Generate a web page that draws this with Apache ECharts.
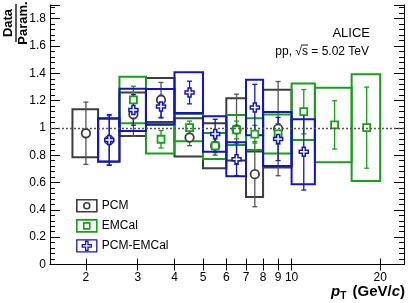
<!DOCTYPE html>
<html><head><meta charset="utf-8">
<script src="https://cdn.jsdelivr.net/npm/echarts@6/dist/echarts.min.js"></script>
<style>html,body{margin:0;padding:0;background:#fff}#c{width:411px;height:303px}</style>
</head><body><div id="c"></div>
<script>
// ---- data ----
const xTickValues = [2,3,4,5,6,7,8,9,10,20];
const yTickValues = [0,0.2,0.4,0.6,0.8,1,1.2,1.4,1.6,1.8];

// PCM
const pcmLow  = [1.8,2.2,2.6,3.2,4,5,6,7,8];
const pcmHigh = [2.2,2.6,3.2,4,5,6,7,8,10];
const pcmX    = [2.0,2.4,2.9,3.6,4.5,5.5,6.5,7.5,9];
const pcmVal  = [0.961,0.91,1.10,1.205,0.93,0.87,0.99,0.661,0.995];
const pcmStat = [0.228,0.18,0.16,0.128,0.06,0.07,0.257,0.238,0.345];
const pcmSys  = [0.175,0.158,0.16,0.161,0.14,0.165,0.228,0.167,0.284];

// EMCal
const emcLow  = [2.6,3.2,4,5,6,7,8,10,12,16];
const emcHigh = [3.2,4,5,6,7,8,10,12,16,20];
const emcX    = [2.9,3.6,4.5,5.5,6.5,7.5,9,11,14,18];
const emcVal  = [1.205,0.917,1.002,0.868,0.985,0.954,0.956,1.119,1.022,1.002];
const emcStat = [0.10,0.064,0.048,0.05,0.065,0.065,0.075,0.162,0.177,0.297];
const emcSys  = [0.17,0.104,0.10,0.095,0.11,0.116,0.143,0.207,0.273,0.391];

// PCM-EMCal
const hybLow  = [2.2,2.6,3.2,4,5,6,7,8,10];
const hybHigh = [2.6,3.2,4,5,6,7,8,10,12];
const hybX    = [2.4,2.9,3.6,4.5,5.5,6.5,7.5,9,11];
const hybVal  = [0.912,1.132,1.156,1.259,0.956,0.771,1.149,0.919,0.826];
const hybStat = [0.186,0.112,0.083,0.083,0.107,0.12,0.17,0.158,0.281];
const hybSys  = [0.158,0.154,0.129,0.149,0.13,0.125,0.203,0.198,0.238];

const FONT = "'Liberation Sans', Arial, Helvetica, sans-serif";
const cPCM = '#3d3d3d', cEMC = '#17a017', cHYB = '#1414c8';
const crossPath = 'path://M-1,-3H1V-1H3V1H1V3H-1V1H-3V-1H-1Z';

function boxSeries(name, color, low, high, val, sys) {
  return {
    type: 'custom', name: name,
    data: low.map((l, i) => [l, high[i], val[i], sys[i]]),
    encode: { x: [0, 1], y: 2 },
    renderItem: function (params, api) {
      const a = api.coord([api.value(0), api.value(2) + api.value(3)]);
      const b = api.coord([api.value(1), api.value(2) - api.value(3)]);
      return { type: 'rect',
        shape: { x: a[0], y: a[1], width: b[0] - a[0], height: b[1] - a[1] },
        style: { fill: 'none', stroke: color, lineWidth: 2 } };
    }
  };
}
function errSeries(name, color, xs, val, err) {
  return {
    type: 'custom', name: name,
    data: xs.map((x, i) => [x, val[i], err[i]]),
    encode: { x: 0, y: 1 },
    renderItem: function (params, api) {
      const t = api.coord([api.value(0), api.value(1) + api.value(2)]);
      const b = api.coord([api.value(0), api.value(1) - api.value(2)]);
      const st = { stroke: color, lineWidth: 1.3 };
      return { type: 'group', children: [
        { type: 'line', shape: { x1: t[0], y1: t[1], x2: b[0], y2: b[1] }, style: st },
        { type: 'line', shape: { x1: t[0] - 2.5, y1: t[1], x2: t[0] + 2.5, y2: t[1] }, style: st },
        { type: 'line', shape: { x1: b[0] - 2.5, y1: b[1], x2: b[0] + 2.5, y2: b[1] }, style: st }
      ]};
    }
  };
}
function markSeries(name, color, xs, val, symbol, size, bw) {
  return {
    type: 'scatter', name: name, symbol: symbol, symbolSize: size,
    data: xs.map((x, i) => [x, val[i]]),
    itemStyle: { color: '#fff', borderColor: color, borderWidth: bw, opacity: 1 }
  };
}

const series = [];
const pcmBox = boxSeries('PCM', cPCM, pcmLow, pcmHigh, pcmVal, pcmSys);
pcmBox.markLine = { silent: true, symbol: 'none', label: { show: false },
  lineStyle: { color: '#555', type: [2, 2], width: 1.3 }, data: [{ yAxis: 1 }] };
series.push(pcmBox, errSeries('PCM', '#555', pcmX, pcmVal, pcmStat), markSeries('PCM', cPCM, pcmX, pcmVal, 'circle', 8.5, 1.8));
series.push(boxSeries('EMCal', cEMC, emcLow, emcHigh, emcVal, emcSys), errSeries('EMCal', cEMC, emcX, emcVal, emcStat), markSeries('EMCal', cEMC, emcX, emcVal, 'rect', 7, 1.8));
series.push(boxSeries('PCM-EMCal', cHYB, hybLow, hybHigh, hybVal, hybSys), errSeries('PCM-EMCal', cHYB, hybX, hybVal, hybStat), markSeries('PCM-EMCal', cHYB, hybX, hybVal, crossPath, 9, 1.5));

const axLine = { show: true, lineStyle: { color: '#000', width: 1 } };
function xAx(pos, showLabel) {
  return {
    type: 'log', logBase: 10, min: 1.51, max: 24.1, position: pos,
    axisLine: axLine,
    axisTick: { show: true, inside: true, length: 6, customValues: xTickValues, lineStyle: { color: '#000' } },
    axisLabel: { show: showLabel, customValues: xTickValues, margin: 7, fontSize: 12, color: '#000', fontFamily: FONT,
      formatter: v => String(Math.round(v)) },
    minorTick: { show: false }, splitLine: { show: false }
  };
}
function yAx(pos, showLabel) {
  return {
    type: 'value', min: 0, max: 1.9, interval: 0.2, position: pos,
    axisLine: axLine,
    axisTick: { show: true, inside: true, length: 10, lineStyle: { color: '#000' } },
    minorTick: { show: true, splitNumber: 5, length: 5, lineStyle: { color: '#000' } },
    axisLabel: { show: showLabel, showMaxLabel: false, margin: 4, fontSize: 12, color: '#000', fontFamily: FONT },
    splitLine: { show: false }
  };
}

const legendIcon = {
  'PCM': 'path://M0,0H20V12H0Z M13,6A3,3,0,1,1,7,6A3,3,0,1,1,13,6Z',
  'EMCal': 'path://M0,0H20V12H0Z M7,3H13V9H7Z',
  'PCM-EMCal': 'path://M0,0H20V12H0Z M8.8,1.5H11.2V4.8H14.5V7.2H11.2V10.5H8.8V7.2H5.5V4.8H8.8Z'
};

// measure text for sqrt(s) overline
const ctx = document.createElement('canvas').getContext('2d');
ctx.font = '12px ' + FONT;
const ppText = 'pp, \u221As = 5.02 TeV';
const ppW = ctx.measureText(ppText).width;
const ppPre = ctx.measureText('pp, \u221A').width;
const sW = ctx.measureText('s').width;
const ppRight = 369;
const ppLeft = ppRight - ppW;

const chart = echarts.init(document.getElementById('c'), null, { renderer: 'canvas' });
chart.setOption({
  animation: false,
  backgroundColor: '#fff',
  grid: { left: 50, right: 7, top: 5, bottom: 38.5, containLabel: false },
  xAxis: [xAx('bottom', true), xAx('top', false)],
  yAxis: [yAx('left', true), yAx('right', false)],
  legend: {
    left: 76, top: 199, orient: 'vertical', padding: 0, itemGap: 6.5,
    itemWidth: 20, itemHeight: 12, selectedMode: false,
    textStyle: { fontSize: 12, color: '#000', fontFamily: FONT },
    data: [
      { name: 'PCM', icon: legendIcon['PCM'], itemStyle: { color: 'transparent', borderColor: cPCM, borderWidth: 1.6 } },
      { name: 'EMCal', icon: legendIcon['EMCal'], itemStyle: { color: 'transparent', borderColor: cEMC, borderWidth: 1.6 } },
      { name: 'PCM-EMCal', icon: legendIcon['PCM-EMCal'], itemStyle: { color: 'transparent', borderColor: cHYB, borderWidth: 1.3 } }
    ]
  },
  graphic: [
    { type: 'group', x: 16, y: 23, rotation: Math.PI / 2, children: [
      { type: 'text', x: 0, y: -1, style: { text: 'Data', font: 'bold 13px ' + FONT, fill: '#000', align: 'center', verticalAlign: 'bottom' } },
      { type: 'line', shape: { x1: -19, y1: 0, x2: 19, y2: 0 }, style: { stroke: '#000', lineWidth: 1.3 } },
      { type: 'text', x: 0, y: 1, style: { text: 'Param.', font: 'bold 13px ' + FONT, fill: '#000', align: 'center', verticalAlign: 'top' } }
    ]},
    { type: 'text', x: 370, y: 33, style: { text: 'ALICE', font: '13px ' + FONT, fill: '#000', align: 'right', verticalAlign: 'middle' } },
    { type: 'text', x: ppRight, y: 52, style: { text: ppText, font: '12px ' + FONT, fill: '#000', align: 'right', verticalAlign: 'middle' } },
    { type: 'line', shape: { x1: ppLeft + ppPre - 1, y1: 45, x2: ppLeft + ppPre + sW, y2: 45 }, style: { stroke: '#000', lineWidth: 0.9 } },
    { type: 'text', x: 405, y: 292, style: {
        text: '{p|p}{t|T}{n| (GeV/}{c|c}{n|)}', align: 'right', verticalAlign: 'middle',
        rich: {
          p: { font: 'bold italic 15px ' + FONT, fill: '#000', lineHeight: 18 },
          t: { font: 'bold 10px ' + FONT, fill: '#000', padding: [9, 2, 0, 0], lineHeight: 18 },
          n: { font: 'bold 15px ' + FONT, fill: '#000', lineHeight: 18 },
          c: { font: 'bold italic 15px ' + FONT, fill: '#000', lineHeight: 18 }
        } } }
  ],
  series: series
});
</script></body></html>
